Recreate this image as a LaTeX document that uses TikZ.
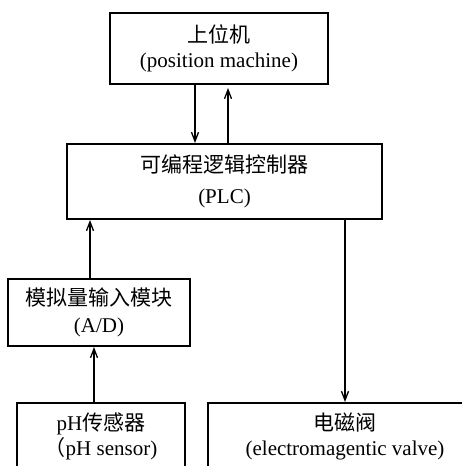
\documentclass[tikz,border=0pt]{standalone}
\usepackage{fontspec}
\setmainfont{Liberation Serif}
\newfontfamily\cjk{Noto Sans CJK SC}
\usepackage{tikz}
\usetikzlibrary{arrows.meta, calc}

\tikzset{
    blockbox/.style={draw, line width=2pt, align=center, inner sep=0pt,
        font=\fontsize{21}{25}\selectfont},
    flow/.style={line width=1.8pt, -{Straight Barb[length=9pt, width=7pt, line width=1.3pt]}}
}

\begin{document}
\begin{tikzpicture}[x=1pt, y=-1pt]
    \useasboundingbox (0,0) rectangle (462,466);
    \clip (0,0) rectangle (462,466);

    % host computer
    \node[blockbox, minimum width=218pt, minimum height=71pt] (pc) at (219, 48.5)
        {{\cjk 上位机}\\(position machine)};

    % PLC
    \node[blockbox, minimum width=315pt, minimum height=75pt] (plc) at (224.5, 181.5)
        {{\cjk 可编程逻辑控制器}\\[6pt](PLC)};

    % A/D module
    \node[blockbox, minimum width=182pt, minimum height=67pt] (ad) at (99, 312.5)
        {{\cjk 模拟量输入模块}\\[2pt](A/D)};

    % sensor and valve (cut off at the bottom)
    \node[blockbox, minimum width=168pt, minimum height=67pt] (sensor) at (101, 436.5)
        {pH{\cjk 传感器}\\{\cjk （}pH sensor)};
    \node[blockbox, minimum width=274pt, minimum height=67pt] (valve) at (345, 436.5)
        {{\cjk 电磁阀}\\(electromagentic valve)};

    % connections
    \draw[flow] ([xshift=-24pt]pc.south) -- ([xshift=-24pt]pc.south |- plc.north);
    \draw[flow] ([xshift=9pt]pc.south |- plc.north) -- ([xshift=9pt, yshift=-3pt]pc.south);
    \draw[flow] ([xshift=-9pt]ad.north) -- ([xshift=-9pt]ad.north |- plc.south);
    \draw[flow] ([xshift=-7pt]sensor.north) -- ([xshift=-7pt]sensor.north |- ad.south);
    \draw[flow] (valve.north |- plc.south) -- (valve.north);
\end{tikzpicture}
\end{document}
